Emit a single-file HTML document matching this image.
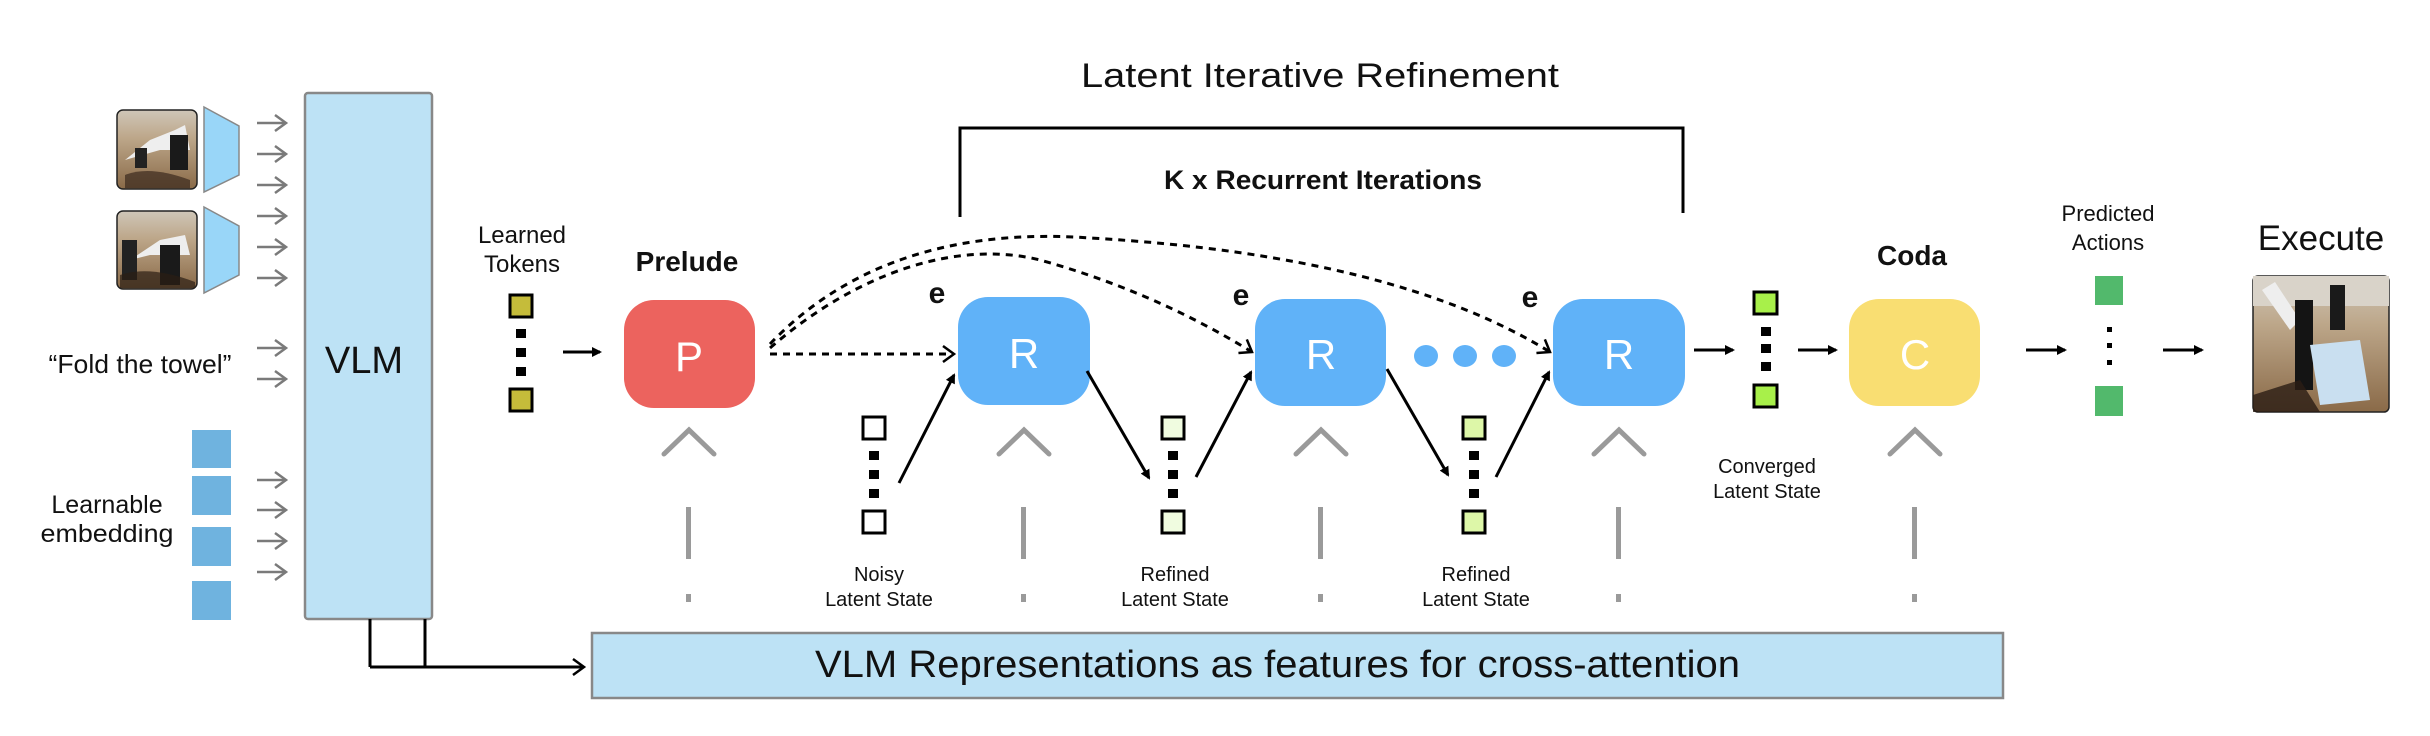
<!DOCTYPE html>
<html><head><meta charset="utf-8"><style>
html,body{margin:0;padding:0;background:#fff;}
svg{display:block;}
text{font-family:"Liberation Sans",sans-serif;}
</style></head><body>
<svg width="2430" height="736" viewBox="0 0 2430 736" xmlns="http://www.w3.org/2000/svg">
<defs>
<marker id="ah" markerWidth="10" markerHeight="10" refX="8" refY="5" orient="auto" markerUnits="userSpaceOnUse"><path d="M0,0 L10,5 L0,10 z" fill="#000"/></marker>
<marker id="oh" markerWidth="16" markerHeight="20" refX="13" refY="10" orient="auto" markerUnits="userSpaceOnUse"><path d="M2,2 L13,10 L2,18" fill="none" stroke="#000" stroke-width="2.5"/></marker>
<marker id="gh" markerWidth="16" markerHeight="20" refX="13" refY="10" orient="auto" markerUnits="userSpaceOnUse"><path d="M2,2 L13,10 L2,18" fill="none" stroke="#7a7a7a" stroke-width="2.5"/></marker>
<linearGradient id="ph" x1="0" y1="0" x2="0" y2="1"><stop offset="0" stop-color="#cfc6b8"/><stop offset="0.35" stop-color="#bda78a"/><stop offset="1" stop-color="#8a6a48"/></linearGradient>
</defs>

<!-- input images -->
<g>
<rect x="117" y="110" width="80" height="79" rx="6" fill="url(#ph)" stroke="#222" stroke-width="1.5"/>
<path d="M125,160 L150,140 L175,130 L185,125 L190,150 L160,150 Z" fill="#eee"/>
<rect x="170" y="135" width="18" height="35" fill="#1a1a1a"/>
<path d="M125,175 Q150,165 190,180 L190,188 L125,188 Z" fill="#3b2a1e" opacity="0.7"/>
<rect x="135" y="148" width="12" height="20" fill="#222"/>
<rect x="117" y="211" width="80" height="78" rx="6" fill="url(#ph)" stroke="#222" stroke-width="1.5"/>
<path d="M130,260 L160,240 L185,235 L190,255 L150,255 Z" fill="#eee"/>
<rect x="160" y="245" width="20" height="40" fill="#1a1a1a"/>
<rect x="122" y="240" width="15" height="40" fill="#222"/>
<path d="M120,275 Q150,265 195,282 L195,288 L120,288 Z" fill="#2b1e14" opacity="0.7"/>
</g>
<polygon points="204,107 239,126 239,175 204,192" fill="#99d6f8" stroke="#888" stroke-width="1.5"/>
<polygon points="204,207 239,226 239,275 204,293" fill="#99d6f8" stroke="#888" stroke-width="1.5"/>

<!-- gray arrows -->
<g stroke="#7a7a7a" stroke-width="2.5" fill="none">
<line x1="257" y1="123" x2="286" y2="123" marker-end="url(#gh)"/>
<line x1="257" y1="154" x2="286" y2="154" marker-end="url(#gh)"/>
<line x1="257" y1="185" x2="286" y2="185" marker-end="url(#gh)"/>
<line x1="257" y1="216" x2="286" y2="216" marker-end="url(#gh)"/>
<line x1="257" y1="247" x2="286" y2="247" marker-end="url(#gh)"/>
<line x1="257" y1="278" x2="286" y2="278" marker-end="url(#gh)"/>
<line x1="257" y1="348" x2="286" y2="348" marker-end="url(#gh)"/>
<line x1="257" y1="379" x2="286" y2="379" marker-end="url(#gh)"/>
<line x1="257" y1="480" x2="286" y2="480" marker-end="url(#gh)"/>
<line x1="257" y1="510" x2="286" y2="510" marker-end="url(#gh)"/>
<line x1="257" y1="541" x2="286" y2="541" marker-end="url(#gh)"/>
<line x1="257" y1="572" x2="286" y2="572" marker-end="url(#gh)"/>
</g>

<text x="140" y="373" font-size="26" text-anchor="middle" fill="#111" textLength="183" lengthAdjust="spacingAndGlyphs">“Fold the towel”</text>
<text x="107" y="513" font-size="25" text-anchor="middle" fill="#111">Learnable</text>
<text x="107" y="542" font-size="25" text-anchor="middle" fill="#111" textLength="133" lengthAdjust="spacingAndGlyphs">embedding</text>
<g fill="#6fb3df">
<rect x="192" y="430" width="39" height="38"/>
<rect x="192" y="476" width="39" height="39"/>
<rect x="192" y="527" width="39" height="39"/>
<rect x="192" y="581" width="39" height="39"/>
</g>

<!-- VLM -->
<rect x="305" y="93" width="127" height="526" rx="3" fill="#bde2f5" stroke="#888" stroke-width="2.5"/>
<text x="364" y="373" font-size="38" text-anchor="middle" fill="#111">VLM</text>

<!-- VLM to bar connector -->
<g stroke="#000" stroke-width="3" fill="none">
<line x1="370" y1="619" x2="370" y2="667"/>
<line x1="425" y1="619" x2="425" y2="667"/>
<line x1="370" y1="667" x2="584" y2="667" marker-end="url(#oh)"/>
</g>

<!-- bottom bar -->
<rect x="592" y="633" width="1411" height="65" fill="#bde2f5" stroke="#888" stroke-width="2.5"/>
<text x="815" y="677" font-size="38" fill="#111" textLength="925" lengthAdjust="spacingAndGlyphs">VLM Representations as features for cross-attention</text>

<!-- Title and bracket -->
<text x="1320" y="87" font-size="34" text-anchor="middle" fill="#111" textLength="478" lengthAdjust="spacingAndGlyphs">Latent Iterative Refinement</text>
<path d="M960,217 L960,128 L1683,128 L1683,213" fill="none" stroke="#000" stroke-width="3"/>
<text x="1323" y="189" font-size="27" font-weight="bold" text-anchor="middle" fill="#111" textLength="318" lengthAdjust="spacingAndGlyphs">K x Recurrent Iterations</text>

<!-- learned tokens -->
<text x="522" y="243" font-size="24" text-anchor="middle" fill="#111">Learned</text>
<text x="522" y="272" font-size="24" text-anchor="middle" fill="#111">Tokens</text>
<rect x="510" y="295" width="22" height="22" fill="#c5bc3a" stroke="#000" stroke-width="3"/>
<rect x="510" y="389" width="22" height="22" fill="#c5bc3a" stroke="#000" stroke-width="3"/>
<g fill="#000"><rect x="516" y="329" width="10" height="9"/><rect x="516" y="348" width="10" height="9"/><rect x="516" y="367" width="10" height="9"/></g>
<line x1="563" y1="352" x2="600" y2="352" stroke="#000" stroke-width="3" marker-end="url(#ah)"/>

<!-- Prelude -->
<text x="687" y="271" font-size="28" font-weight="bold" text-anchor="middle" fill="#111">Prelude</text>
<rect x="624" y="300" width="131" height="108" rx="30" fill="#ec635e"/>
<text x="689" y="371" font-size="42" text-anchor="middle" fill="#fff">P</text>

<!-- dashed connectors -->
<g stroke="#000" stroke-width="3" fill="none" stroke-dasharray="7,6">
<line x1="770" y1="354" x2="954" y2="354" marker-end="url(#oh)"/>
<path d="M770,348 C860,270 960,240 1040,260 C1130,285 1200,320 1252,352" marker-end="url(#oh)"/>
<path d="M770,344 C860,250 980,230 1090,238 C1300,250 1450,290 1550,352" marker-end="url(#oh)"/>
</g>

<!-- R boxes -->
<g fill="#60b2f8">
<rect x="958" y="297" width="132" height="108" rx="30"/>
<rect x="1255" y="299" width="131" height="107" rx="30"/>
<rect x="1553" y="299" width="132" height="107" rx="30"/>
</g>
<g fill="#fff" font-size="42" text-anchor="middle">
<text x="1024" y="368">R</text><text x="1321" y="369">R</text><text x="1619" y="369">R</text>
</g>
<g font-size="30" font-weight="bold" fill="#111" text-anchor="middle">
<text x="937" y="303">e</text><text x="1241" y="305">e</text><text x="1530" y="307">e</text>
</g>
<g fill="#60b2f8"><ellipse cx="1426" cy="356" rx="12" ry="11"/><ellipse cx="1465" cy="356" rx="12" ry="11"/><ellipse cx="1504" cy="356" rx="12" ry="11"/></g>

<!-- latent states -->
<g stroke="#000" stroke-width="3">
<rect x="863" y="417" width="22" height="22" fill="#fff"/>
<rect x="863" y="511" width="22" height="22" fill="#fff"/>
<rect x="1162" y="417" width="22" height="22" fill="#f0fce0"/>
<rect x="1162" y="511" width="22" height="22" fill="#f0fce0"/>
<rect x="1463" y="417" width="22" height="22" fill="#ddf7a8"/>
<rect x="1463" y="511" width="22" height="22" fill="#ddf7a8"/>
<rect x="1754" y="292" width="23" height="22" fill="#a8f04a"/>
<rect x="1754" y="385" width="23" height="22" fill="#a8f04a"/>
</g>
<g fill="#000">
<rect x="869" y="451" width="10" height="9"/><rect x="869" y="470" width="10" height="9"/><rect x="869" y="489" width="10" height="9"/>
<rect x="1168" y="451" width="10" height="9"/><rect x="1168" y="470" width="10" height="9"/><rect x="1168" y="489" width="10" height="9"/>
<rect x="1469" y="451" width="10" height="9"/><rect x="1469" y="470" width="10" height="9"/><rect x="1469" y="489" width="10" height="9"/>
<rect x="1761" y="327" width="10" height="9"/><rect x="1761" y="344" width="10" height="9"/><rect x="1761" y="362" width="10" height="9"/>
</g>

<!-- solid arrows -->
<g stroke="#000" stroke-width="3" fill="none">
<line x1="899" y1="483" x2="954" y2="375" marker-end="url(#ah)"/>
<line x1="1087" y1="371" x2="1149" y2="478" marker-end="url(#ah)"/>
<line x1="1196" y1="477" x2="1251" y2="372" marker-end="url(#ah)"/>
<line x1="1387" y1="369" x2="1448" y2="475" marker-end="url(#ah)"/>
<line x1="1496" y1="477" x2="1549" y2="372" marker-end="url(#ah)"/>
<line x1="1694" y1="350" x2="1733" y2="350" marker-end="url(#ah)"/>
<line x1="1798" y1="350" x2="1836" y2="350" marker-end="url(#ah)"/>
<line x1="2026" y1="350" x2="2065" y2="350" marker-end="url(#ah)"/>
<line x1="2163" y1="350" x2="2202" y2="350" marker-end="url(#ah)"/>
</g>

<!-- labels under states -->
<g font-size="20" text-anchor="middle" fill="#111">
<text x="879" y="581">Noisy</text><text x="879" y="606">Latent State</text>
<text x="1175" y="581">Refined</text><text x="1175" y="606">Latent State</text>
<text x="1476" y="581">Refined</text><text x="1476" y="606">Latent State</text>
<text x="1767" y="473">Converged</text><text x="1767" y="498">Latent State</text>
</g>

<!-- carets and gray lines -->
<g stroke="#9a9a9a" stroke-width="5" fill="none" stroke-linecap="round">
<polyline points="664,454 689,430 714,454"/>
<polyline points="999,454 1024,430 1049,454"/>
<polyline points="1296,454 1321,430 1346,454"/>
<polyline points="1594,454 1619,430 1644,454"/>
<polyline points="1890,454 1915,430 1940,454"/>
</g>
<g fill="#9a9a9a">
<rect x="686" y="507" width="5" height="52"/><rect x="686" y="594" width="5" height="8"/>
<rect x="1021" y="507" width="5" height="52"/><rect x="1021" y="594" width="5" height="8"/>
<rect x="1318" y="507" width="5" height="52"/><rect x="1318" y="594" width="5" height="8"/>
<rect x="1616" y="507" width="5" height="52"/><rect x="1616" y="594" width="5" height="8"/>
<rect x="1912" y="507" width="5" height="52"/><rect x="1912" y="594" width="5" height="8"/>
</g>

<!-- Coda -->
<text x="1912" y="265" font-size="28" font-weight="bold" text-anchor="middle" fill="#111">Coda</text>
<rect x="1849" y="299" width="131" height="107" rx="30" fill="#f9de72"/>
<text x="1915" y="369" font-size="42" text-anchor="middle" fill="#fff">C</text>

<!-- Predicted actions -->
<text x="2108" y="221" font-size="22" text-anchor="middle" fill="#111">Predicted</text>
<text x="2108" y="250" font-size="22" text-anchor="middle" fill="#111">Actions</text>
<rect x="2095" y="276" width="28" height="29" fill="#52b96c"/>
<rect x="2095" y="386" width="28" height="30" fill="#52b96c"/>
<g fill="#000"><rect x="2107" y="327" width="5" height="5"/><rect x="2107" y="343" width="5" height="5"/><rect x="2107" y="360" width="5" height="5"/></g>

<!-- Execute -->
<text x="2321" y="250" font-size="35" text-anchor="middle" fill="#111">Execute</text>
<rect x="2253" y="276" width="136" height="136" rx="5" fill="url(#ph)" stroke="#222" stroke-width="1.5"/>
<rect x="2253" y="276" width="136" height="30" fill="#d9d3c9"/>
<path d="M2262,290 L2290,330 L2300,320 L2275,282 Z" fill="#eee"/>
<rect x="2295" y="300" width="18" height="90" fill="#141414"/>
<rect x="2330" y="285" width="15" height="45" fill="#1a1a1a"/>
<polygon points="2310,345 2360,340 2370,400 2320,405" fill="#c9dff0"/>
<path d="M2253,395 L2300,380 L2320,412 L2253,412 Z" fill="#2a1d14" opacity="0.8"/>
</svg>
</body></html>
